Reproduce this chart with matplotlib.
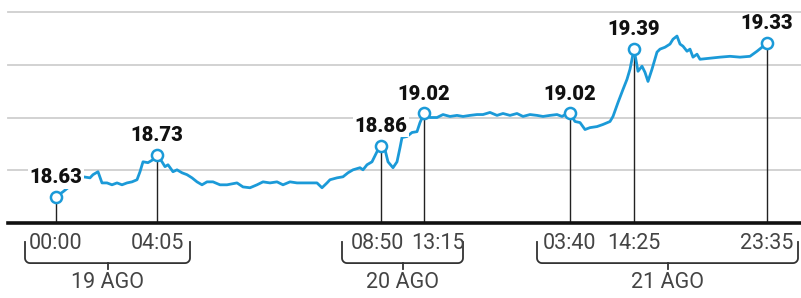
import numpy as np
import matplotlib
matplotlib.use("Agg")
import matplotlib.pyplot as plt
from matplotlib.transforms import blended_transform_factory

# tipo de cambio, posicion en el eje (sesiones comprimidas) y valor leido
x_pos = [56, 60, 63, 68, 73, 80, 83, 90, 93, 98, 102, 107, 112, 117, 122, 127, 132, 137,
         140, 143, 148, 153, 157, 162, 165, 168, 173, 177, 182, 187, 192, 197, 202, 207,
         213, 220, 227, 237, 243, 250, 257, 263, 270, 277, 283, 290, 297, 303, 310, 317,
         322, 327, 330, 337, 343, 348, 353, 360, 363, 367, 372, 377, 381, 385, 388, 393,
         397, 400, 402, 407, 412, 417, 420, 424, 430, 437, 443, 450, 457, 463, 470, 477,
         483, 490, 497, 503, 510, 517, 523, 530, 537, 543, 550, 557, 562, 567, 570, 575,
         580, 585, 590, 597, 603, 610, 613, 618, 623, 627, 630, 634, 638, 642, 645, 648,
         652, 657, 660, 665, 670, 673, 677, 680, 683, 687, 690, 693, 697, 700, 710, 720,
         730, 740, 750, 757, 762, 767]
tc = [18.624, 18.638, 18.648, 18.667, 18.671, 18.729, 18.719, 18.714, 18.729, 18.743,
      18.690, 18.690, 18.681, 18.690, 18.681, 18.690, 18.695, 18.705, 18.743, 18.790,
      18.786, 18.800, 18.824, 18.790, 18.767, 18.776, 18.743, 18.752, 18.738, 18.729,
      18.714, 18.695, 18.681, 18.695, 18.695, 18.681, 18.681, 18.690, 18.671, 18.667,
      18.681, 18.695, 18.690, 18.695, 18.681, 18.695, 18.690, 18.690, 18.690, 18.690,
      18.667, 18.690, 18.705, 18.714, 18.719, 18.738, 18.752, 18.762, 18.752, 18.776,
      18.790, 18.838, 18.867, 18.848, 18.790, 18.762, 18.790, 18.857, 18.905, 18.910,
      18.929, 18.933, 18.976, 19.019, 19.000, 19.000, 19.014, 19.005, 19.010, 19.005,
      19.010, 19.014, 19.014, 19.024, 19.010, 19.019, 19.010, 19.019, 19.005, 19.014,
      19.010, 19.005, 19.010, 19.014, 19.005, 19.019, 19.019, 18.981, 18.976, 18.943,
      18.952, 18.957, 18.967, 18.981, 19.005, 19.071, 19.133, 19.181, 19.229, 19.324,
      19.219, 19.243, 19.214, 19.171, 19.229, 19.310, 19.324, 19.333, 19.348, 19.371,
      19.386, 19.348, 19.338, 19.314, 19.324, 19.286, 19.300, 19.276, 19.281, 19.286,
      19.290, 19.286, 19.290, 19.314, 19.333, 19.352]

# puntos destacados
pt_x = [56, 157, 381, 424, 570, 634, 767]
pt_label = ["18.63", "18.73", "18.86", "19.02", "19.02", "19.39", "19.33"]
pt_hora = ["00:00", "04:05", "08:50", "13:15", "03:40", "14:25", "23:35"]

dias = ["19 AGO", "20 AGO", "21 AGO"]
dias_rango = [(25, 190), (342, 463), (537, 798)]

azul = "#1b9ad8"

fig = plt.figure(figsize=(8.01, 2.98), dpi=100)
ax = fig.add_axes([8 / 801, 75 / 298, 793 / 801, 211 / 298])
ax.set_xlim(8, 801)
ax.set_ylim(18.5, 19.5)
for s in ax.spines.values():
    s.set_visible(False)
ax.set_xticks([])
ax.set_yticks([])

for g in [18.75, 19.0, 19.25, 19.5]:
    ax.axhline(g, color="#cfcfcf", lw=1.3, zorder=0, clip_on=False)
ax.axhline(18.5, color="#111111", lw=2.6, zorder=3, clip_on=False)

ax.plot(x_pos, tc, color=azul, lw=2.0, zorder=2, solid_joinstyle="round")

pt_y = np.interp(pt_x, x_pos, tc)
for i, (x, y) in enumerate(zip(pt_x, pt_y)):
    ax.plot([x, x], [18.5, y], color="#222222", lw=1.0, zorder=1)
    ax.plot(x, y, "o", ms=8, mfc="white", mec=azul, mew=1.8, zorder=5)
    ax.annotate(pt_label[i], (x, y), xytext=(0, 14), textcoords="offset points",
                ha="center", va="center", fontsize=14.5, fontweight="black",
                family="Roboto", color="#111111", zorder=6,
                bbox=dict(boxstyle="square,pad=0.08", fc="white", ec="none"))

tr = blended_transform_factory(ax.transData, ax.transAxes)
# corrimiento de algunas horas para que no se encimen
corr = {"08:50": -4, "13:15": 14}
for x, h in zip(pt_x, pt_hora):
    ax.text(x + corr.get(h, 0), -0.097, h, transform=tr, ha="center", va="center",
            fontsize=15.5, family="Roboto", color="#444444")

# llaves de cada dia
px = 1 / 211
r = 5
y_top = -0.09
y_bot = -0.19
for (a, b), d in zip(dias_rango, dias):
    t = np.linspace(0, np.pi / 2, 8)
    left_x = a + r - r * np.cos(t)
    left_y = y_bot + r * px - r * px * np.sin(t)
    right_x = b - r + r * np.sin(t)
    right_y = y_bot + r * px - r * px * np.cos(t)
    bx = np.concatenate([[a], left_x, right_x, [b]])
    by = np.concatenate([[y_top], left_y, right_y, [y_top]])
    ax.plot(bx, by, color="#333333", lw=1.3, transform=tr, clip_on=False)
    c = (a + b) / 2
    ax.plot([c, c], [y_bot, y_bot - 6 * px], color="#333333", lw=1.3,
            transform=tr, clip_on=False)
    ax.text(c, -0.284, d, transform=tr, ha="center", va="center", fontsize=15.5,
            family="Roboto", color="#444444")

plt.savefig("out.png", dpi=100)
